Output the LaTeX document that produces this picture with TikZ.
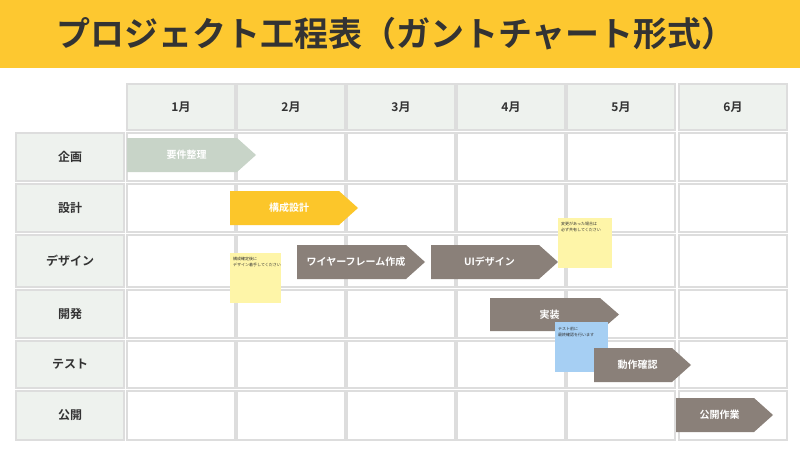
\documentclass[tikz,border=0pt]{standalone}
\usepackage{fontspec}
\setmainfont{Noto Sans CJK JP}[BoldFont={* Bold}]
\definecolor{ttl}{HTML}{FDC830}
\definecolor{lab}{HTML}{EEF2EE}
\definecolor{grd}{HTML}{DDDDDD}
\definecolor{brn}{HTML}{8A8079}
\definecolor{sage}{HTML}{C8D4C8}
\definecolor{ylw}{HTML}{FCC62A}
\definecolor{note}{HTML}{FEF5A8}
\definecolor{bnote}{HTML}{A6CFF3}
\definecolor{txt}{HTML}{333333}
\begin{document}
\begin{tikzpicture}[x=1pt,y=-1pt,
 cell/.style={draw=grd,line width=1.2pt,fill=white},
 lcell/.style={draw=grd,line width=1.2pt,fill=lab},
 ltext/.style={font=\bfseries\fontsize{12}{12}\selectfont,text=txt},
 btext/.style={font=\bfseries\fontsize{10}{10}\selectfont,text=white},
 ntext/.style={font=\fontsize{4}{6}\selectfont,text=txt,align=left,anchor=north west,inner sep=0pt,text width=#1}]
\useasboundingbox (0,0) rectangle (800,450);
\fill[white] (0,0) rectangle (800,450);
\fill[ttl] (0,0) rectangle (800,68);
\node[font=\bfseries\fontsize{34}{34}\selectfont,text=txt,anchor=west,inner sep=0pt] (title) at (56,34) {プロジェクト工程表（ガントチャート形式）};
\def\cols{{127,237,347,457,567,679}}
\foreach \i/\m in {0/1,1/2,2/3,3/4,4/5,5/6}{
  \pgfmathsetmacro\xa{\cols[\i]}
  \draw[lcell] (\xa,84) rectangle ++(108,46);
  \node[ltext] (m\m) at (\xa+54,107) {\m 月};
}
\foreach \r/\ya/\yb/\t in {1/133/181/企画,2/184/232/設計,3/235/287/デザイン,4/290/338/開発,5/341/388/テスト,6/391/440/公開}{
  \draw[lcell] (16,\ya) rectangle (124,\yb);
  \node[ltext] (r\r) at (70,{(\ya+\yb)/2}) {\t};
  \foreach \i in {0,...,5}{
    \pgfmathsetmacro\xa{\cols[\i]}
    \draw[cell] (\xa,\ya) rectangle ++(108,\yb-\ya);
  }
}
\newcommand\gbar[6]{%
  \fill[#6] (#2,#4) -- ({#3-19},#4) -- (#3,{(#4+#5)/2}) -- ({#3-19},#5) -- (#2,#5) -- cycle;
  \coordinate (#1) at ({(#2+#3-10)/2},{(#4+#5)/2});}
\gbar{b1}{127}{256}{138}{172}{sage}\node[btext] (t1) at (b1) {要件整理};
\gbar{b2}{230}{358}{191}{225}{ylw}\node[btext] (t2) at (b2) {構成設計};
\gbar{b3}{297}{425}{245}{279}{brn}\node[btext] (t3) at (b3) {ワイヤーフレーム作成};
\gbar{b4}{431}{558}{245}{279}{brn}\node[btext] (t4) at (b4) {UIデザイン};
\gbar{b5}{490}{619}{298}{331}{brn}\node[btext] (t5) at (b5) {実装};
\fill[note] (230,253) rectangle (281,303);
\node[ntext=46pt] (n1) at (233,257) {構成確定後に\\デザイン着手してください};
\fill[note] (558,218) rectangle (612,268);
\node[ntext=50pt] (n2) at (561,222) {変更があった場合は\\必ず共有してください};
\fill[bnote] (555,322) rectangle (608,372);
\node[ntext=50pt] (n3) at (558,327) {テスト前に\\最終確認を行います};
\gbar{b6}{594}{691}{348}{382}{brn}\node[btext] (t6) at (b6) {動作確認};
\gbar{b7}{676}{773}{398}{432}{brn}\node[btext] (t7) at (b7) {公開作業};
\end{tikzpicture}
\end{document}
